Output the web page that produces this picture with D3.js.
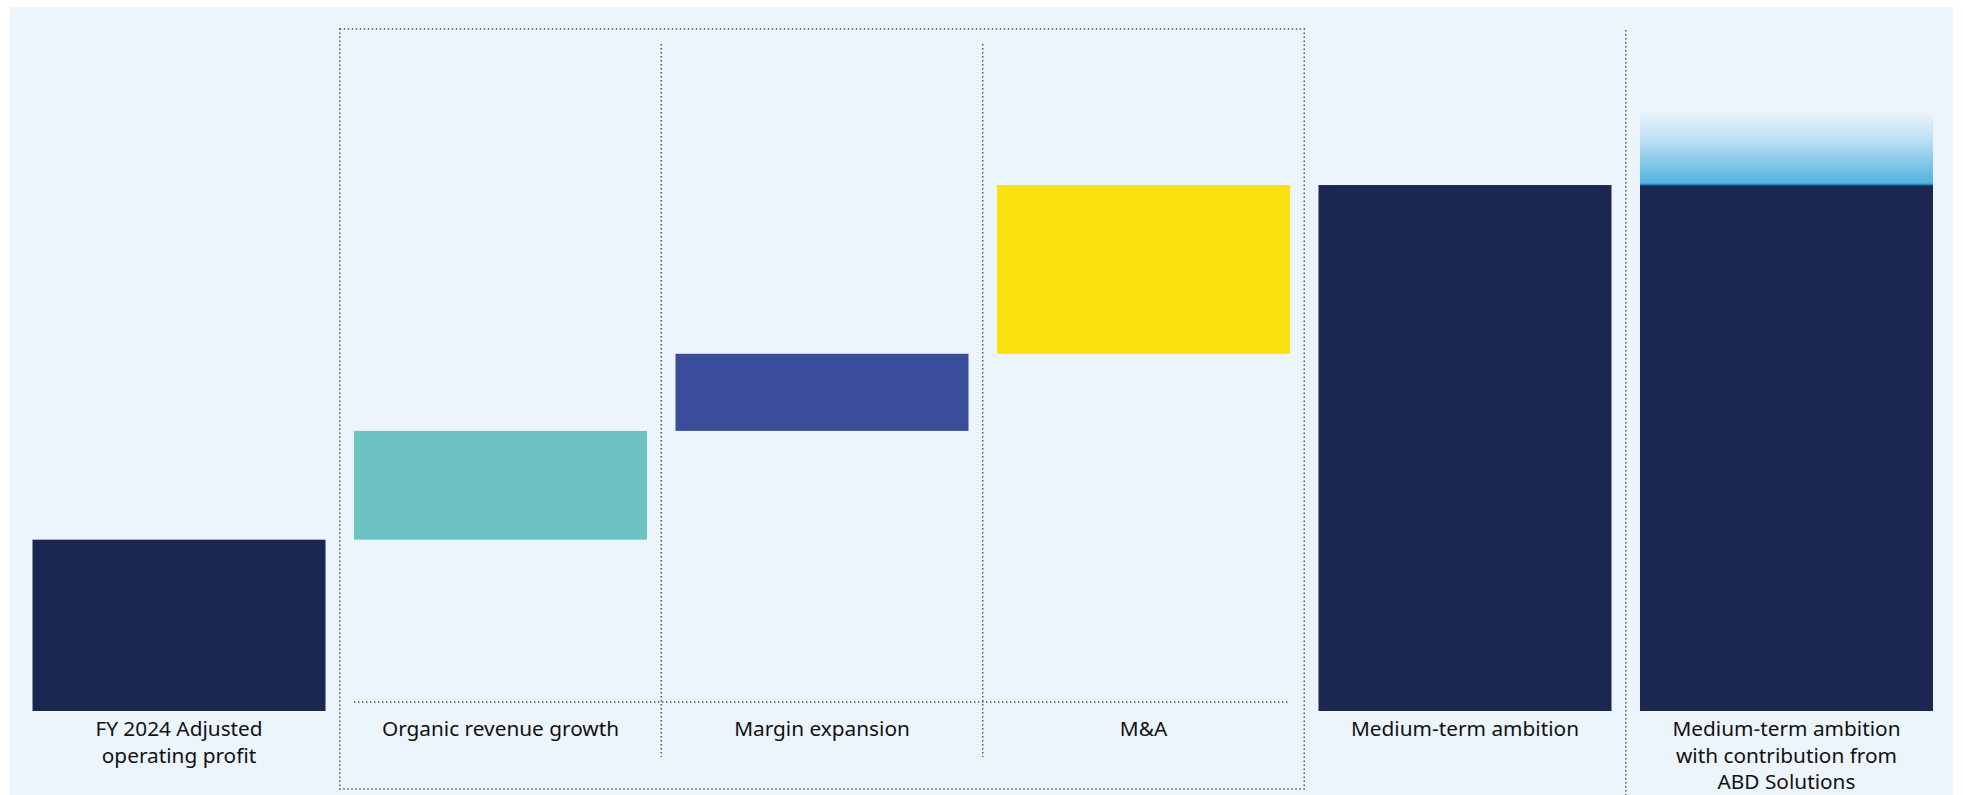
<!DOCTYPE html>
<html>
<head>
<meta charset="utf-8">
<script src="https://cdn.jsdelivr.net/npm/d3@7/dist/d3.min.js"></script>
<style>
  html, body { margin: 0; padding: 0; background: #fff; }
  svg { display: block; }
  .label { font-family: "Noto Sans", "Open Sans", sans-serif; font-size: 20.8px; fill: #111; }
  .dots { fill: none; stroke: #4a4e57; stroke-width: 1.4; stroke-dasharray: 1.4 2.6; }
</style>
</head>
<body>
<svg id="chart" width="1963" height="795"></svg>
<script>
// ---- data (index, FY 2024 adjusted operating profit = 100) ----
const categories = ['fy24', 'organic', 'margin', 'ma', 'medium', 'abd'];
const labels = [
  ['FY 2024 Adjusted', 'operating profit'],
  ['Organic revenue growth'],
  ['Margin expansion'],
  ['M&A'],
  ['Medium-term ambition'],
  ['Medium-term ambition', 'with contribution from', 'ABD Solutions']
];
const starts = [0, 100, 163.5, 208.5, 0, 0];
const ends   = [100, 163.5, 208.5, 307, 307, 307];
const abdUpside = [307, 351];   // faded contribution on top of last bar
const colors = ['#1b2750', '#6ec3c2', '#3a4d9b', '#fae20f', '#1b2750', '#1b2750'];

const svg = d3.select('#chart');
const W = 1963, H = 795;

// background panel
svg.append('rect').attr('x', 10).attr('y', 7).attr('width', 1943).attr('height', H - 7)
  .attr('fill', '#edf5fc');

const x = d3.scaleBand().domain(categories).range([32.5, 1933])
  .paddingInner(0.0886).paddingOuter(0);
const y = d3.scaleLinear().domain([0, 415]).range([711, 0]);

const gap = x.step() - x.bandwidth();
const divX = i => x(categories[i]) + x.bandwidth() + gap / 2;  // divider right of column i

// gradient for the ABD contribution
const defs = svg.append('defs');
const grad = defs.append('linearGradient').attr('id', 'abd-grad')
  .attr('x1', 0).attr('x2', 0).attr('y1', 0).attr('y2', 1);
grad.append('stop').attr('offset', '0%').attr('stop-color', '#4fb0df').attr('stop-opacity', 0);
grad.append('stop').attr('offset', '40%').attr('stop-color', '#4fb0df').attr('stop-opacity', 0.3);
grad.append('stop').attr('offset', '100%').attr('stop-color', '#4fb0df').attr('stop-opacity', 1);

// bars
svg.append('g').selectAll('rect')
  .data(categories)
  .join('rect')
    .attr('x', d => x(d))
    .attr('width', x.bandwidth())
    .attr('y', (d, i) => y(ends[i]))
    .attr('height', (d, i) => y(starts[i]) - y(ends[i]))
    .attr('fill', (d, i) => colors[i]);

// ABD upside
svg.append('rect')
  .attr('x', x('abd')).attr('width', x.bandwidth())
  .attr('y', y(abdUpside[1])).attr('height', y(abdUpside[0]) - y(abdUpside[1]))
  .attr('fill', 'url(#abd-grad)');
svg.append('line')
  .attr('x1', x('abd')).attr('x2', x('abd') + x.bandwidth())
  .attr('y1', y(abdUpside[0]) - 0.5).attr('y2', y(abdUpside[0]) - 0.5)
  .attr('stroke', '#2387c2').attr('stroke-width', 1.6);

// dotted framing: box around the three drivers
const g = svg.append('g');
const boxL = divX(0), boxR = divX(3);
g.append('rect').attr('class', 'dots')
  .attr('x', boxL).attr('y', 29).attr('width', boxR - boxL).attr('height', 789 - 29);
[1, 2].forEach(i => {
  g.append('line').attr('class', 'dots')
    .attr('x1', divX(i)).attr('x2', divX(i)).attr('y1', 44).attr('y2', 757);
});
g.append('line').attr('class', 'dots')
  .attr('x1', x('organic')).attr('x2', x('ma') + x.bandwidth())
  .attr('y1', 702).attr('y2', 702);
g.append('line').attr('class', 'dots')
  .attr('x1', divX(4)).attr('x2', divX(4)).attr('y1', 30).attr('y2', 795);

// labels
const lab = svg.append('g').selectAll('text')
  .data(categories)
  .join('text')
    .attr('class', 'label')
    .attr('text-anchor', 'middle')
    .attr('x', d => x(d) + x.bandwidth() / 2)
    .attr('y', 736);
lab.each(function(d, i) {
  d3.select(this).selectAll('tspan')
    .data(labels[i])
    .join('tspan')
      .attr('x', x(d) + x.bandwidth() / 2)
      .attr('dy', (t, j) => j === 0 ? 0 : 26.7)
      .text(t => t);
});
</script>
</body>
</html>
